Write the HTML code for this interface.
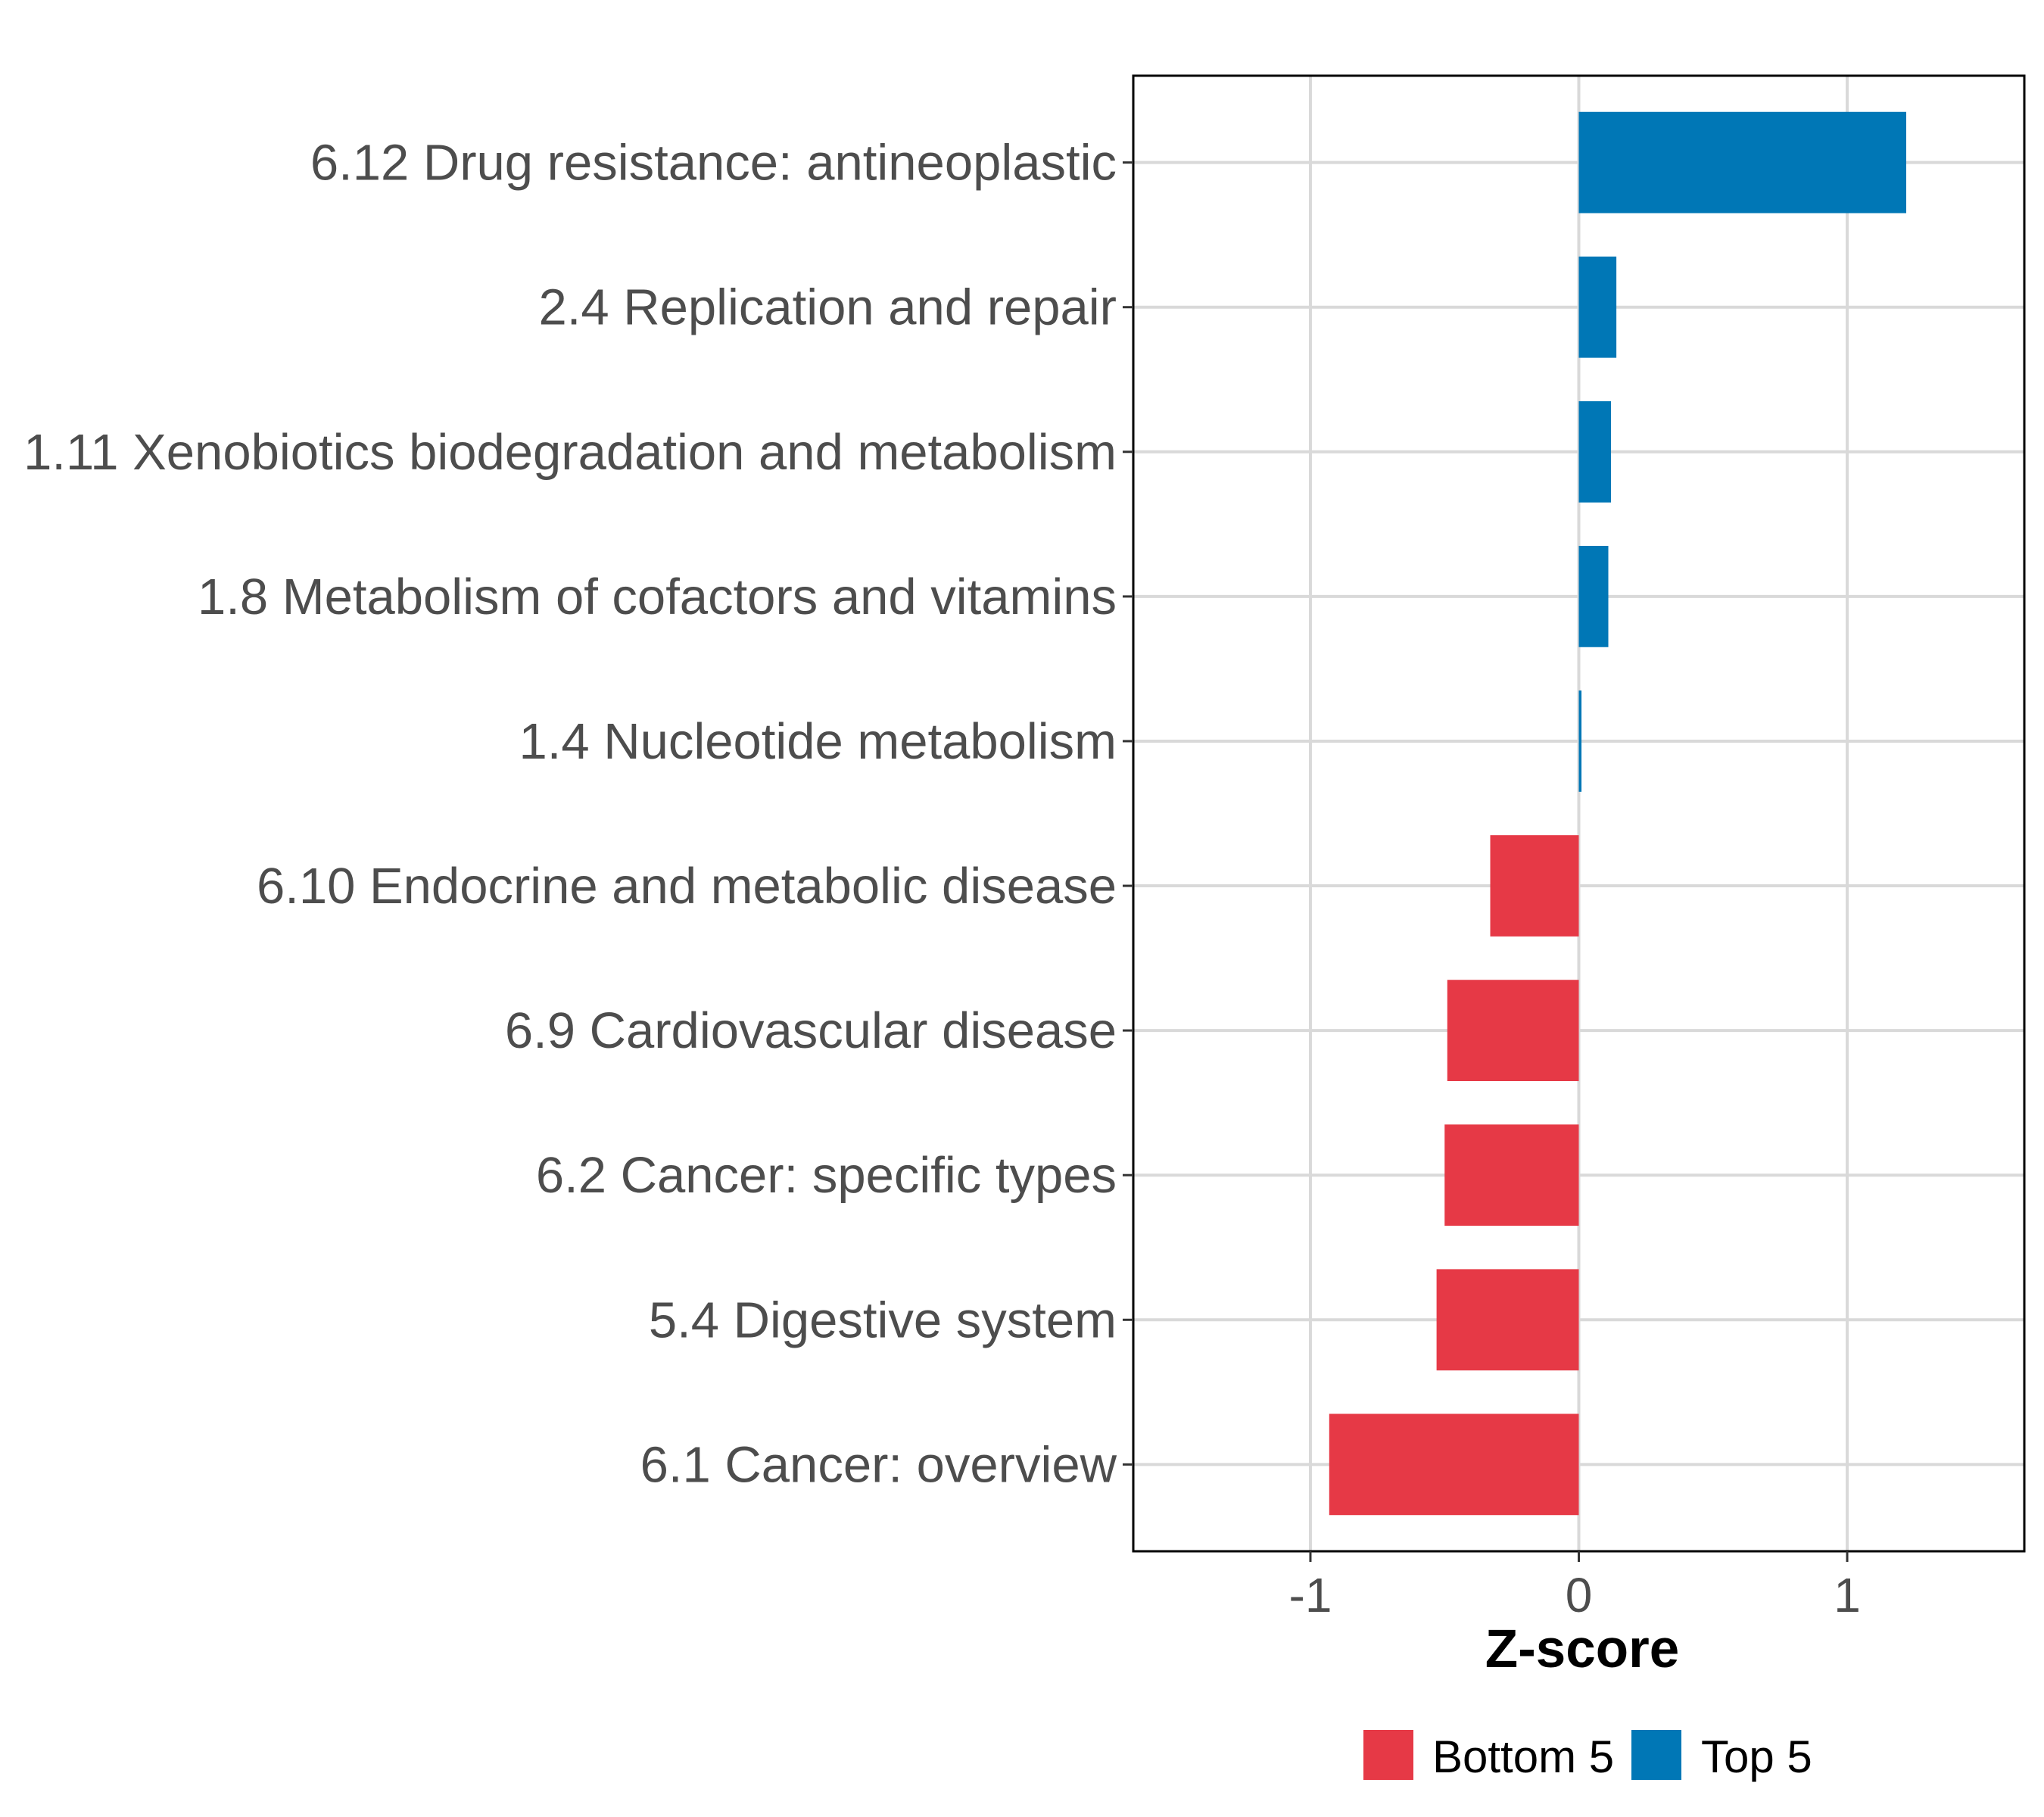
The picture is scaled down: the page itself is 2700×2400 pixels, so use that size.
<!DOCTYPE html>
<html><head><meta charset="utf-8"><style>
html,body{margin:0;padding:0;background:#fff;}
svg{display:block;font-family:"Liberation Sans",Arial,sans-serif;}
</style></head><body>
<svg id="chart" width="2700" height="2400" viewBox="0 0 2700 2400" xmlns="http://www.w3.org/2000/svg">
<rect width="2700" height="2400" fill="#fff"/>
<g id="grid"></g>
<g id="bars"></g>
<rect x="1497" y="100" width="1177" height="1949" fill="none" stroke="#000" stroke-width="3"/>
<g id="ylab"></g>
<g id="xlab"></g>
<text x="2090" y="2202" text-anchor="middle" font-size="71" font-weight="bold" fill="#000">Z-score</text>
<g>
<rect x="1801" y="2285" width="66" height="66" fill="#E63946"/>
<text x="1892" y="2341" font-size="60" fill="#000">Bottom 5</text>
<rect x="2155" y="2285" width="66" height="66" fill="#0077B6"/>
<text x="2247" y="2341" font-size="60" fill="#000">Top 5</text>
</g>
</svg>
<script>
const categories = ["6.12 Drug resistance: antineoplastic","2.4 Replication and repair","1.11 Xenobiotics biodegradation and metabolism","1.8 Metabolism of cofactors and vitamins","1.4 Nucleotide metabolism","6.10 Endocrine and metabolic disease","6.9 Cardiovascular disease","6.2 Cancer: specific types","5.4 Digestive system","6.1 Cancer: overview"];
const values = [1.22,0.14,0.12,0.11,0.01,-0.33,-0.49,-0.50,-0.53,-0.93];
const groups = ["Top 5","Top 5","Top 5","Top 5","Top 5","Bottom 5","Bottom 5","Bottom 5","Bottom 5","Bottom 5"];
const xTicks = [-1,0,1];
const xTickLabels = ["-1","0","1"];
const NS="http://www.w3.org/2000/svg";
const L=1497,R=2674,T=100,B=2049,xmin=-1.66,xmax=1.66;
const n=categories.length;
function xs(v){return L+(v-xmin)/(xmax-xmin)*(R-L);}
function ys(i){const u=(B-T)/(n+0.2);return T+(0.6+i)*u;}
const bandH=(B-T)/(n+0.2)*0.7;
function mk(tag,attrs,parent){const e=document.createElementNS(NS,tag);for(const k in attrs)e.setAttribute(k,attrs[k]);parent.appendChild(e);return e;}
const grid=document.getElementById('grid'),bars=document.getElementById('bars'),ylab=document.getElementById('ylab'),xlab=document.getElementById('xlab');
xTicks.forEach((t,i)=>{
  const g=mk('line',{x1:xs(t),x2:xs(t),y1:T,y2:B,stroke:'#d9d9d9','stroke-width':4},grid);
  
  
  const tk=mk('line',{x1:xs(t),x2:xs(t),y1:B,y2:B+14,stroke:'#333','stroke-width':3},xlab);
  
  
  const tx=mk('text',{x:xs(t),y:B+80,'text-anchor':'middle','font-size':64,fill:'#4d4d4d'},xlab);
  tx.textContent=xTickLabels[i];
  
  
});
categories.forEach((c,i)=>{
  const y=ys(i);
  const g=mk('line',{x1:L,x2:R,y1:y,y2:y,stroke:'#d9d9d9','stroke-width':4},grid);
  
  
  const v=values[i];
  const x0=xs(Math.min(0,v)),x1=xs(Math.max(0,v));
  const b=mk('rect',{x:x0,y:y-bandH/2,width:Math.max(x1-x0,2),height:bandH,fill:groups[i]==='Top 5'?'#0077B6':'#E63946'},bars);
  
  
  const tk=mk('line',{x1:L-14,x2:L,y1:y,y2:y,stroke:'#333','stroke-width':3},ylab);
  
  
  const tx=mk('text',{x:L-22,y:y+23,'text-anchor':'end','font-size':67,fill:'#4d4d4d'},ylab);
  tx.textContent=c;
  
  
});
</script>
</body></html>
